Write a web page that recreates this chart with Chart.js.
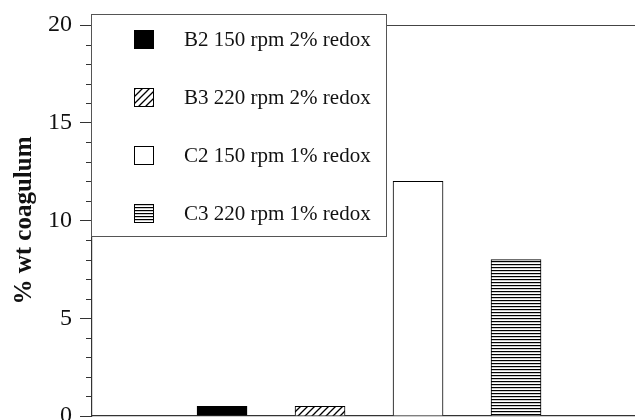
<!DOCTYPE html>
<html>
<head>
<meta charset="utf-8">
<script src="https://cdn.jsdelivr.net/npm/chart.js@4"></script>
<style>
html,body{margin:0;padding:0;background:#fff;overflow:hidden;}
canvas{display:block;}
</style>
</head>
<body>
<canvas id="c" width="635" height="420"></canvas>
<script>
// ---- data ----
const categories = ['B2 150 rpm 2% redox', 'B3 220 rpm 2% redox', 'C2 150 rpm 1% redox', 'C3 220 rpm 1% redox'];
const positions = [1, 2, 3, 4];
const coagulum = [0.5, 0.5, 12, 8];
const yTickLabels = [0, 5, 10, 15, 20];
const yTitle = '% wt coagulum';

// ---- patterns ----
function makePattern(kind) {
  const c = document.createElement('canvas');
  const ctx = c.getContext('2d');
  if (kind === 'solid') return '#000';
  if (kind === 'white') return '#fff';
  if (kind === 'hatch') {
    c.width = 7; c.height = 7;
    ctx.fillStyle = '#fff'; ctx.fillRect(0, 0, 7, 7);
    ctx.strokeStyle = '#000'; ctx.lineWidth = 1.3;
    ctx.beginPath();
    ctx.moveTo(-1, 8); ctx.lineTo(8, -1);
    ctx.moveTo(-8, 8); ctx.lineTo(1, -1);
    ctx.moveTo(6, 8); ctx.lineTo(15, -1);
    ctx.stroke();
  } else if (kind === 'stripe') {
    c.width = 4; c.height = 3;
    ctx.fillStyle = '#fff'; ctx.fillRect(0, 0, 4, 3);
    ctx.fillStyle = '#000'; ctx.fillRect(0, 0, 4, 1.2);
  }
  return ctx.createPattern(c, 'repeat');
}
const fills = [makePattern('solid'), makePattern('hatch'), makePattern('white'), makePattern('stripe')];

const serif = '"Liberation Serif", "Times New Roman", serif';

const framePlugin = {
  id: 'frame',
  afterDraw(chart) {
    const {ctx, chartArea: a, scales: {y}} = chart;
    ctx.save();
    // minor ticks
    ctx.strokeStyle = '#333'; ctx.lineWidth = 1;
    for (let v = y.min; v <= y.max; v++) {
      if (v % 5 === 0) continue;
      const py = Math.round(y.getPixelForValue(v)) + 0.5;
      ctx.beginPath(); ctx.moveTo(a.left - 6, py); ctx.lineTo(a.left, py); ctx.stroke();
    }
    // top frame line
    ctx.strokeStyle = '#444'; ctx.lineWidth = 1.2;
    ctx.beginPath(); ctx.moveTo(a.left, a.top + 0.5); ctx.lineTo(a.right, a.top + 0.5); ctx.stroke();
    // legend box
    const bx = 91.5, by = 14.5, bw = 295, bh = 222;
    ctx.fillStyle = '#fff'; ctx.fillRect(bx, by, bw, bh);
    ctx.strokeStyle = '#555'; ctx.lineWidth = 1;
    ctx.strokeRect(bx, by, bw, bh);
    ctx.font = '21px ' + serif;
    ctx.textBaseline = 'middle';
    ctx.textAlign = 'left';
    categories.forEach((lab, i) => {
      const cy = 39 + i * 58.3;
      const sx = 134, sy = Math.round(cy - 9.5);
      ctx.fillStyle = fills[i];
      ctx.fillRect(sx, sy, 20, 19);
      ctx.strokeStyle = '#000'; ctx.lineWidth = 1;
      ctx.strokeRect(sx + 0.5, sy + 0.5, 19, 18);
      ctx.fillStyle = '#111';
      ctx.fillText(lab, 184, cy + 1);
    });
    ctx.restore();
  }
};

new Chart(document.getElementById('c'), {
  type: 'bar',
  data: {
    datasets: [{
      label: yTitle,
      data: positions.map((p, i) => ({x: p, y: coagulum[i]})),
      backgroundColor: fills,
      borderColor: '#000',
      borderWidth: 1,
      barThickness: 50
    }]
  },
  options: {
    responsive: false,
    animation: false,
    devicePixelRatio: 1,
    layout: {padding: {top: 25, left: 0, right: 0, bottom: 0}},
    plugins: {legend: {display: false}, tooltip: {enabled: false}},
    scales: {
      x: {
        type: 'linear',
        offset: false,
        min: -0.327,
        max: 5.214,
        ticks: {display: false},
        grid: {display: false, drawTicks: false},
        border: {display: true, color: '#333', width: 1.2},
        afterFit(s) { s.height = 4; s.paddingLeft = 0; s.paddingRight = 0; s.paddingTop = 0; s.paddingBottom = 0; }
      },
      y: {
        min: 0,
        max: 20,
        ticks: {
          stepSize: 1,
          autoSkip: false,
          padding: 8,
          color: '#111',
          font: {family: serif, size: 24},
          callback: v => (yTickLabels.includes(v) ? String(v) : '')
        },
        grid: {
          drawOnChartArea: false,
          drawTicks: true,
          tickLength: 12,
          tickColor: ctx => (ctx.tick && ctx.tick.value % 5 === 0 ? '#333' : 'rgba(0,0,0,0)')
        },
        border: {display: true, color: '#333', width: 1.2},
        title: {
          display: true,
          text: yTitle,
          color: '#111',
          font: {family: serif, size: 25, weight: 'bold'},
          padding: {top: 10, bottom: 0}
        },
        afterFit(s) { s.width = 92; s.paddingTop = 0; s.paddingBottom = 0; }
      }
    }
  },
  plugins: [framePlugin]
});
</script>
</body>
</html>
